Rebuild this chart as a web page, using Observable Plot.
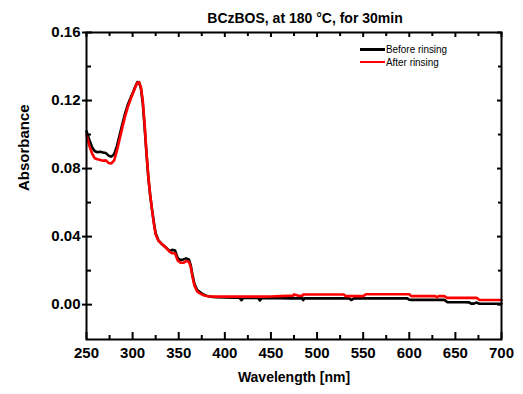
<!DOCTYPE html>
<html><head><meta charset="utf-8">
<script src="https://cdn.jsdelivr.net/npm/d3@7"></script>
<script src="https://cdn.jsdelivr.net/npm/@observablehq/plot@0.6"></script>
<style>
body{margin:0;background:#fff;}
#wrap{position:relative;width:523px;height:394px;font-family:"Liberation Sans",Arial,sans-serif;}
.lg-line{position:absolute;height:2.5px;width:25px;}
.lg-text{position:absolute;font-size:11.5px;line-height:12px;white-space:nowrap;transform:scaleX(0.86);transform-origin:left center;color:#000;}
</style></head><body>
<div id="wrap"></div>
<script>
const title = "BCzBOS, at 180 °C, for 30min";
const xLabel = "Wavelength [nm]";
const yLabel = "Absorbance";
const seriesNames = ["Before rinsing", "After rinsing"];
const seriesColors = ["#000000", "#ff0000"];

const wavelength = [250,253,256,259,262,265,268,271,274,277,280,283,286,289,292,295,298,301,303,305,307,309,311,313,315,317,319,321,323,325,328,331,334,337,340,343,346,349,352,355,358,361,363,365,367,370,373,376,380,385,390,400,410,416,418,420,430,436,438,440,450,460,470,474,475,480,484,485,486,488,490,500,510,520,529,531,535,537,540,550,553,555,557,560,570,580,590,598,600,602,604,610,620,628,630,632,638,641,650,660,665,667,670,673,676,680,690,700];

const before = [.1020,.0970,.0925,.0902,.0896,.0899,.0894,.0891,.0876,.0870,.0885,.0932,.0998,.1065,.1128,.1178,.1218,.1256,.1283,.1308,.1307,.1272,.1185,.1045,.0890,.0750,.0645,.0560,.0485,.0418,.0378,.0360,.0346,.0332,.0314,.0322,.0318,.0272,.0262,.0266,.0272,.0266,.0232,.0172,.0122,.0086,.0074,.0062,.0052,.0046,.0043,.0042,.0041,.0041,.0026,.0040,.0040,.0040,.0025,.0039,.0038,.0038,.0037,.0037,.0037,.0037,.0037,.0026,.0037,.0037,.0037,.0037,.0037,.0037,.0037,.0037,.0037,.0027,.0037,.0037,.0037,.0037,.0037,.0037,.0037,.0037,.0037,.0037,.0029,.0028,.0028,.0028,.0028,.0028,.0028,.0028,.0028,.0015,.0014,.0014,.0013,.0006,.0006,.0012,.0005,.0005,.0005,.0005];

const after = [.1000,.0935,.0890,.0860,.0855,.0851,.0846,.0848,.0833,.0830,.0848,.0905,.0975,.1045,.1110,.1165,.1210,.1252,.1280,.1305,.1308,.1278,.1200,.1060,.0900,.0755,.0648,.0560,.0478,.0412,.0376,.0360,.0345,.0330,.0312,.0302,.0302,.0258,.0246,.0246,.0256,.0252,.0222,.0162,.0112,.0078,.0066,.0057,.0051,.0048,.0047,.0047,.0047,.0047,.0047,.0047,.0047,.0047,.0047,.0047,.0048,.0050,.0052,.0052,.0060,.0052,.0052,.0060,.0060,.0060,.0060,.0060,.0060,.0060,.0060,.0050,.0050,.0050,.0050,.0050,.0061,.0061,.0061,.0061,.0061,.0061,.0061,.0061,.0061,.0050,.0050,.0050,.0050,.0050,.0044,.0050,.0050,.0040,.0040,.0040,.0040,.0040,.0040,.0040,.0027,.0027,.0027,.0027];

const xMajor = [250,300,350,400,450,500,550,600,650,700];
const xMinor = [275,325,375,425,475,525,575,625,675];
const yMajor = [0,0.04,0.08,0.12,0.16];
const yMinor = [0.02,0.06,0.10,0.14];
const xDomain = [250,700];
const yDomain = [-0.0205,0.16];

const rows = wavelength.map((w,i)=>({w, before: before[i], after: after[i]}));
const font = "Liberation Sans, Arial, sans-serif";
const empty = () => "";
const [yLo, yHi] = yDomain;

// inward ticks on the frame edges
const bottomTicks = (vals, len) => Plot.ruleX(vals, {x: d => d, y1: yLo, y2: yLo, insetBottom: len, stroke: "#000", strokeWidth: 2});
const topTicks = (vals, len) => Plot.ruleX(vals, {x: d => d, y1: yHi, y2: yHi, insetTop: len, stroke: "#000", strokeWidth: 2});
const leftTicks = (vals, len) => Plot.axisY(vals, {anchor: "left", tickSize: len, dx: len, tickFormat: empty, label: null, strokeWidth: 2});
const rightTicks = (vals, len) => Plot.axisY(vals, {anchor: "right", tickSize: len, dx: -len, tickFormat: empty, label: null, strokeWidth: 2});

const plot = Plot.plot({
  width: 523, height: 394,
  marginLeft: 86, marginRight: 22, marginTop: 32, marginBottom: 55,
  style: {fontFamily: font, fontSize: "15px", fontWeight: "bold", color: "#000", background: "#fff", overflow: "visible"},
  x: {domain: xDomain},
  y: {domain: yDomain},
  marks: [
    Plot.lineY(rows, {x: "w", y: "before", stroke: seriesColors[0], strokeWidth: 2.6}),
    Plot.lineY(rows, {x: "w", y: "after", stroke: seriesColors[1], strokeWidth: 2.6}),
    Plot.frame({stroke: "#000", strokeWidth: 2}),
    Plot.axisX(xMajor, {anchor: "bottom", tickSize: 0, tickPadding: 8, tickFormat: d => String(d), label: null}),
    Plot.axisY(yMajor, {anchor: "left", tickSize: 4, tickPadding: 2, tickFormat: d => d.toFixed(2), label: null, strokeWidth: 2}),
    bottomTicks(xMajor, 7), bottomTicks(xMinor, 4),
    topTicks(xMajor, 5), topTicks(xMinor, 4),
    leftTicks(yMajor, 6), leftTicks(yMinor, 5),
    rightTicks(yMajor, 5), rightTicks(yMinor, 4),
    Plot.text([title], {frameAnchor: "top", dx: 11, dy: -14, text: d => d, fontSize: 14, fontWeight: "bold", lineAnchor: "middle"}),
    Plot.text([xLabel], {frameAnchor: "bottom", dy: 38, text: d => d, fontSize: 14, fontWeight: "bold", lineAnchor: "middle"}),
    Plot.text([yLabel], {frameAnchor: "left", dx: -62, dy: 5, rotate: -90, text: d => d, fontSize: 15, fontWeight: "bold", lineAnchor: "middle"})
  ]
});

const wrap = document.getElementById("wrap");
wrap.appendChild(plot);

const lgPos = [{lineTop: 48, textTop: 43}, {lineTop: 60.5, textTop: 55.5}];
seriesNames.forEach((name, i) => {
  const line = document.createElement("div");
  line.className = "lg-line";
  line.style.left = "360px";
  line.style.top = lgPos[i].lineTop + "px";
  line.style.background = seriesColors[i];
  wrap.appendChild(line);
  const t = document.createElement("div");
  t.className = "lg-text";
  t.style.left = "386px";
  t.style.top = lgPos[i].textTop + "px";
  t.textContent = name;
  wrap.appendChild(t);
});
</script>
</body></html>
